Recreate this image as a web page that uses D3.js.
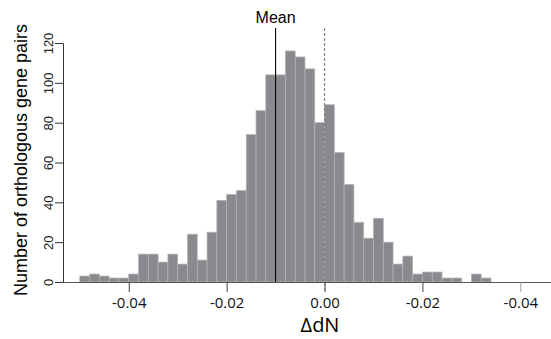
<!DOCTYPE html>
<html lang="en">
<head>
<meta charset="UTF-8">
<title>dN histogram</title>
<script src="https://cdnjs.cloudflare.com/ajax/libs/d3/7.8.5/d3.min.js"></script>
<style>
    body { margin: 0; background: #fff; }
    svg { display: block; }
</style>
</head>
<body>
<div id="chart"></div>
<script>
    // lower edge of each bin (bin width 0.002)
    var binLo = [-0.050, -0.048, -0.046, -0.044, -0.042, -0.040, -0.038, -0.036, -0.034, -0.032,
                 -0.030, -0.028, -0.026, -0.024, -0.022, -0.020, -0.018, -0.016, -0.014, -0.012,
                 -0.010, -0.008, -0.006, -0.004, -0.002,  0.000,  0.002,  0.004,  0.006,  0.008,
                  0.010,  0.012,  0.014,  0.016,  0.018,  0.020,  0.022,  0.024,  0.026,  0.028,
                  0.030,  0.032];
    var binWidth = 0.002;
    var counts = [3, 4, 3, 2, 2, 4, 14, 14, 10, 14,
                  9, 24, 11, 25, 41, 44, 46, 74, 86, 104,
                  104, 116, 113, 107, 80, 89, 65, 49, 30, 22,
                  32, 20, 9, 13, 4, 5, 5, 2, 2, 0,
                  4, 2];
    var meanValue = -0.01;
    var xTicks = [-0.04, -0.02, 0, 0.02, 0.04];
    var xTickLabels = ["-0.04", "-0.02", "0.00", "-0.02", "-0.04"];
    var yTicks = [0, 20, 40, 60, 80, 100, 120];

    var width = 551, height = 339;

    var svg = d3.select("#chart").append("svg")
        .attr("width", width)
        .attr("height", height);

    var x = d3.scaleLinear()
        .domain([-0.05343, 0.04626])
        .range([63, 551]);

    var y = d3.scaleLinear()
        .domain([0, 120])
        .range([282, 43]);

    // bars
    svg.append("g").selectAll("rect")
        .data(counts)
        .enter().append("rect")
        .attr("x", function (d, i) { return x(binLo[i]); })
        .attr("width", function (d, i) { return x(binLo[i] + binWidth) - x(binLo[i]); })
        .attr("y", function (d) { return y(d); })
        .attr("height", function (d) { return y(0) - y(d); })
        .attr("fill", "#898a8d")
        .attr("stroke", "#b3b4b7")
        .attr("stroke-width", 0.7);

    // x axis
    var xAxis = d3.axisBottom(x)
        .tickValues(xTicks)
        .tickFormat(function (d, i) { return xTickLabels[i]; })
        .tickSize(10)
        .tickPadding(5)
        .tickSizeOuter(0);

    var gx = svg.append("g")
        .attr("transform", "translate(0,282)")
        .call(xAxis);
    gx.select(".domain").attr("stroke", "#555");
    gx.selectAll(".tick line").attr("stroke", function (d) { return d > 0.03 ? "#999" : "#444"; });
    gx.selectAll(".tick text")
        .attr("fill", "#111")
        .style("font-family", "'Open Sans', 'Noto Sans', sans-serif")
        .style("font-size", "15px");

    // y axis
    var yAxis = d3.axisLeft(y)
        .tickValues(yTicks)
        .tickSize(8)
        .tickSizeOuter(0);

    var gy = svg.append("g")
        .attr("transform", "translate(63,0)")
        .call(yAxis);
    gy.select(".domain").attr("stroke", "#333");
    gy.selectAll(".tick line").attr("stroke", "#333");
    gy.selectAll(".tick text")
        .attr("x", null).attr("dy", null)
        .attr("transform", "translate(-10,0) rotate(-90)")
        .attr("text-anchor", "middle")
        .attr("fill", "#222")
        .style("font-family", "'Liberation Sans', Arial, sans-serif")
        .style("font-size", "13px");

    // mean line
    svg.append("line")
        .attr("x1", x(meanValue)).attr("x2", x(meanValue))
        .attr("y1", 28).attr("y2", y(0))
        .attr("stroke", "#000")
        .attr("stroke-width", 1.1);

    // zero line
    svg.append("line")
        .attr("x1", x(0)).attr("x2", x(0))
        .attr("y1", 28).attr("y2", y(0) + 10)
        .attr("stroke", "#808080")
        .attr("stroke-width", 1.2)
        .attr("stroke-dasharray", "3,2");

    svg.append("text")
        .attr("x", x(meanValue))
        .attr("y", 23)
        .attr("text-anchor", "middle")
        .style("font-family", "'Liberation Sans', Arial, sans-serif")
        .style("font-size", "16px")
        .text("Mean");

    // axis titles
    svg.append("text")
        .attr("transform", "translate(27,160) rotate(-90)")
        .attr("text-anchor", "middle")
        .style("font-family", "'Liberation Sans', Arial, sans-serif")
        .style("font-size", "18px")
        .text("Number of orthologous gene pairs");

    svg.append("text")
        .attr("x", 320)
        .attr("y", 332)
        .attr("text-anchor", "middle")
        .style("font-family", "'Open Sans', 'Noto Sans', sans-serif")
        .style("font-size", "20px")
        .text("\u0394dN");
</script>
</body>
</html>
